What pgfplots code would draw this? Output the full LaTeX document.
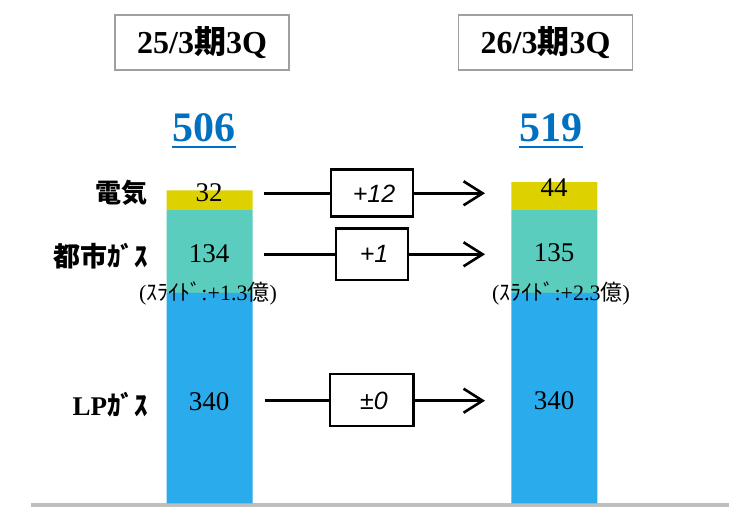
\documentclass[border=0pt]{standalone}
\usepackage{pgfplots}
\pgfplotsset{compat=1.18}
\usepackage{fontspec}
\setmainfont{Liberation Serif}
\newfontfamily\jp{Noto Sans CJK JP}
\newfontfamily\sfi{Liberation Sans}
\usetikzlibrary{arrows.meta}
\definecolor{cElec}{HTML}{DDD200}
\definecolor{cCity}{HTML}{5ACDBE}
\definecolor{cLP}{HTML}{2AABEB}
\definecolor{cTot}{HTML}{0070C0}
\definecolor{cBase}{HTML}{BFBFBF}
\definecolor{cBox}{HTML}{A0A0A0}
\begin{document}
\begin{tikzpicture}
\begin{scope}[x=0.5pt,y=-0.5pt,shift={(0,256.5pt)}]
\draw[cBase, line width=2pt] (31,505) -- (729,505);
\end{scope}
\begin{axis}[at={(0,0)}, anchor=south west, scale only axis,
  width=365.5pt, height=256.5pt,
  xmin=0, xmax=731, ymin=-15.68, ymax=813.6,
  hide axis, ybar stacked, bar width=43pt, clip=false]
\addplot[fill=cLP, draw=none] coordinates {(209.7,340) (554.4,340)};
\addplot[fill=cCity, draw=none] coordinates {(209.7,134) (554.4,135)};
\addplot[fill=cElec, draw=none] coordinates {(209.7,32) (554.4,44)};
\end{axis}
\begin{scope}[x=0.5pt,y=-0.5pt,shift={(0,256.5pt)}]
% title boxes
\draw[cBox, line width=0.75pt] (115,15) rectangle (289,70);
\node at (202,42.5) {\fontsize{16}{16}\selectfont\bfseries 25/3{\jp\bfseries 期}3Q};
\draw[cBox, line width=0.75pt] (458.5,15) rectangle (632.5,70);
\node at (545.5,42.5) {\fontsize{16}{16}\selectfont\bfseries 26/3{\jp\bfseries 期}3Q};
% totals
\node[anchor=base, text=cTot, inner sep=0pt] at (204,142) {\fontsize{21}{21}\selectfont\bfseries 506};
\draw[cTot, line width=1pt] (172,147) -- (236,147);
\node[anchor=base, text=cTot, inner sep=0pt] at (551,142) {\fontsize{21}{21}\selectfont\bfseries 519};
\draw[cTot, line width=1pt] (519,147) -- (583,147);
% category labels
\node[anchor=east, inner sep=0pt] at (148,193) {\fontsize{13}{13}\selectfont\jp\bfseries 電気};
\node[anchor=east, inner sep=0pt] at (148,256) {\fontsize{13.5}{13.5}\selectfont\jp\bfseries 都市ｶﾞｽ};
\node[anchor=east, inner sep=0pt] at (148,405) {\fontsize{13.5}{13.5}\selectfont\bfseries LP{\jp\bfseries ｶﾞｽ}};
% values
\node at (209,193) {\fontsize{13.5}{14}\selectfont 32};
\node at (209,254) {\fontsize{13.5}{14}\selectfont 134};
\node at (209,402) {\fontsize{13.5}{14}\selectfont 340};
\node at (554,188) {\fontsize{13.5}{14}\selectfont 44};
\node at (554,253) {\fontsize{13.5}{14}\selectfont 135};
\node at (554,401) {\fontsize{13.5}{14}\selectfont 340};
% sub labels
\node at (208,293) {\fontsize{11}{11}\selectfont ({\jp ｽﾗｲﾄﾞ}:+1.3{\jp 億})};
\node at (561,293) {\fontsize{11}{11}\selectfont ({\jp ｽﾗｲﾄﾞ}:+2.3{\jp 億})};
% change arrows
\begin{scope}[line width=1.3pt]
\draw (264,193.3) -- (331,193.3);
\draw (331,169.5) rectangle (413,216.5);
\draw[-{Straight Barb[length=9.5pt,width=12pt]}] (413,193.3) -- (485,193.3);
\node at (374,193.3) {\fontsize{12.5}{13}\selectfont\sfi\itshape +12};
\draw (264,254.3) -- (336,254.3);
\draw (336,228.3) rectangle (408,280);
\draw[-{Straight Barb[length=9.5pt,width=12pt]}] (408,254.3) -- (485,254.3);
\node at (374,254.3) {\fontsize{12.5}{13}\selectfont\sfi\itshape +1};
\draw (265,400.7) -- (330,400.7);
\draw (330,374) rectangle (413.5,426);
\draw[-{Straight Barb[length=9.5pt,width=12pt]}] (413.5,400.7) -- (485,400.7);
\node at (374,400.7) {\fontsize{12.5}{13}\selectfont\sfi\itshape ±0};
\end{scope}
\end{scope}
\pgfresetboundingbox
\useasboundingbox (0,0) rectangle (365.5pt,256.5pt);
\end{tikzpicture}
\end{document}
